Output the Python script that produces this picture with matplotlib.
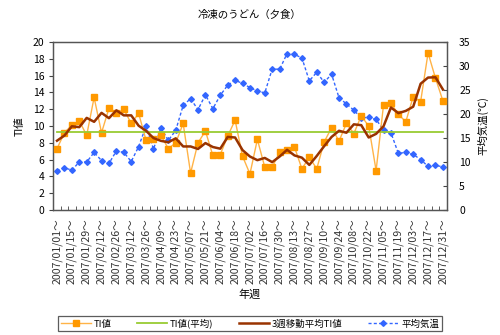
import numpy as np
import pandas as pd
import matplotlib
matplotlib.use("Agg")
import matplotlib.pyplot as plt
from matplotlib.lines import Line2D

plt.rcParams['font.family'] = ['Noto Sans CJK JP', 'DejaVu Sans']

# 週ごとのデータ (2007/01/01 ～ 2007/12/31)
weeks = pd.date_range("2007-01-01", periods=53, freq="7D")
week_labels = [d.strftime("%Y/%m/%d") + "～" for d in weeks]

ti = [7.3, 9.2, 10.1, 10.6, 8.9, 13.4, 9.2, 12.1, 11.5, 12.0,
      10.3, 11.5, 8.3, 8.5, 8.9, 7.3, 8.0, 10.3, 4.4, 8.0,
      9.4, 6.5, 6.6, 8.8, 10.7, 6.4, 4.3, 8.4, 5.1, 5.1,
      6.9, 7.1, 7.5, 4.9, 6.3, 4.9, 8.1, 9.8, 8.2, 10.3,
      9.1, 11.2, 10.0, 4.7, 12.5, 12.7, 11.4, 10.5, 13.5, 12.9,
      18.7, 15.7, 13.0]

temp = [8.1, 8.8, 8.3, 10.0, 10.0, 12.0, 10.3, 9.7, 12.3, 12.0,
        10.1, 13.2, 17.5, 12.7, 17.1, 14.5, 16.6, 21.8, 23.2, 20.9,
        24.0, 21.1, 23.9, 26.0, 27.0, 26.4, 25.5, 24.8, 24.4, 29.4,
        29.3, 32.6, 32.4, 31.7, 26.9, 28.7, 26.6, 28.3, 23.4, 22.1,
        20.8, 19.2, 19.3, 18.9, 16.6, 16.1, 11.8, 12.0, 11.6, 10.5,
        9.1, 9.3, 9.0]

ti_s = pd.Series(ti)
ti_avg = ti_s.mean()
ti_ma3 = ti_s.rolling(3, center=True, min_periods=1).mean()

x = np.arange(len(ti))

fig = plt.figure(figsize=(5, 3.35), dpi=100)
ax = fig.add_axes([0.1066, 0.3731, 0.7866, 0.5015])
ax2 = ax.twinx()

blue_ls = (0, (2.2, 1.6))
ax2.plot(x, temp, linestyle=blue_ls, color="#3366FF", linewidth=1.0,
         marker="D", markersize=2.9, markerfacecolor="#3366FF",
         markeredgecolor="#3366FF", zorder=2)
ax.plot(x, ti, color="#FFB347", linewidth=1.0, marker="s", markersize=3.8,
        markerfacecolor="#FF9900", markeredgecolor="#FF9900", zorder=3)
ax.plot(x, [ti_avg] * len(x), color="#99CC33", linewidth=1.3, zorder=3)
ax.plot(x, ti_ma3, color="#993300", linewidth=1.8, zorder=4)

ax.set_zorder(ax2.get_zorder() + 1)
ax.patch.set_visible(False)

ax.set_xlim(-0.5, len(x) - 0.5)
ax.set_ylim(0, 20)
ax2.set_ylim(0, 35)
ax.set_yticks(np.arange(0, 21, 2))
ax2.set_yticks(np.arange(0, 36, 5))

ax.set_xticks(x[::2])
ax.set_xticklabels(week_labels[::2], rotation=90, fontsize=7.6, color="#333333")
ax.set_xticks(np.arange(-0.5, len(x)), minor=True)
ax.tick_params(axis="x", which="major", length=0, pad=6)
ax.tick_params(axis="x", which="minor", direction="in", length=3, color="#444444")
ax.tick_params(axis="y", direction="out", length=3, labelsize=7.5, color="#444444")
ax2.tick_params(axis="y", direction="in", length=3, labelsize=7.5, color="#444444", pad=9)

for a in (ax, ax2):
    for s in a.spines.values():
        s.set_color("#555555")
        s.set_linewidth(0.9)

ax.set_ylabel("TI値", fontsize=7.5, labelpad=6)
ax2.set_ylabel("平均気温(℃)", fontsize=7.5, rotation=90, labelpad=5)
ax.set_xlabel("年週", fontsize=8, labelpad=4)
fig.text(0.5, 0.955, "冷凍のうどん（夕食）", ha="center", va="center", fontsize=7.5)

handles = [
    Line2D([], [], color="#FFB347", linewidth=1.0, marker="s", markersize=3.8,
           markerfacecolor="#FF9900", markeredgecolor="#FF9900"),
    Line2D([], [], color="#99CC33", linewidth=1.3),
    Line2D([], [], color="#993300", linewidth=1.8),
    Line2D([], [], color="#3366FF", linewidth=1.0, linestyle=blue_ls, marker="D",
           markersize=2.9, markerfacecolor="#3366FF", markeredgecolor="#3366FF"),
]
labels = ["TI値", "TI値(平均)", "3週移動平均TI値", "平均気温"]
leg = fig.legend(handles, labels, loc="center", ncol=4, mode="expand",
                 bbox_to_anchor=(0.1066, 0.006, 0.7866, 0.056),
                 bbox_transform=fig.transFigure, fontsize=6.8,
                 handlelength=3.2, handletextpad=0.3, columnspacing=1.0,
                 frameon=True, fancybox=False, borderpad=0.3)
leg.get_frame().set_edgecolor("#333333")
leg.get_frame().set_linewidth(0.9)

fig.savefig("out.png", dpi=100)
